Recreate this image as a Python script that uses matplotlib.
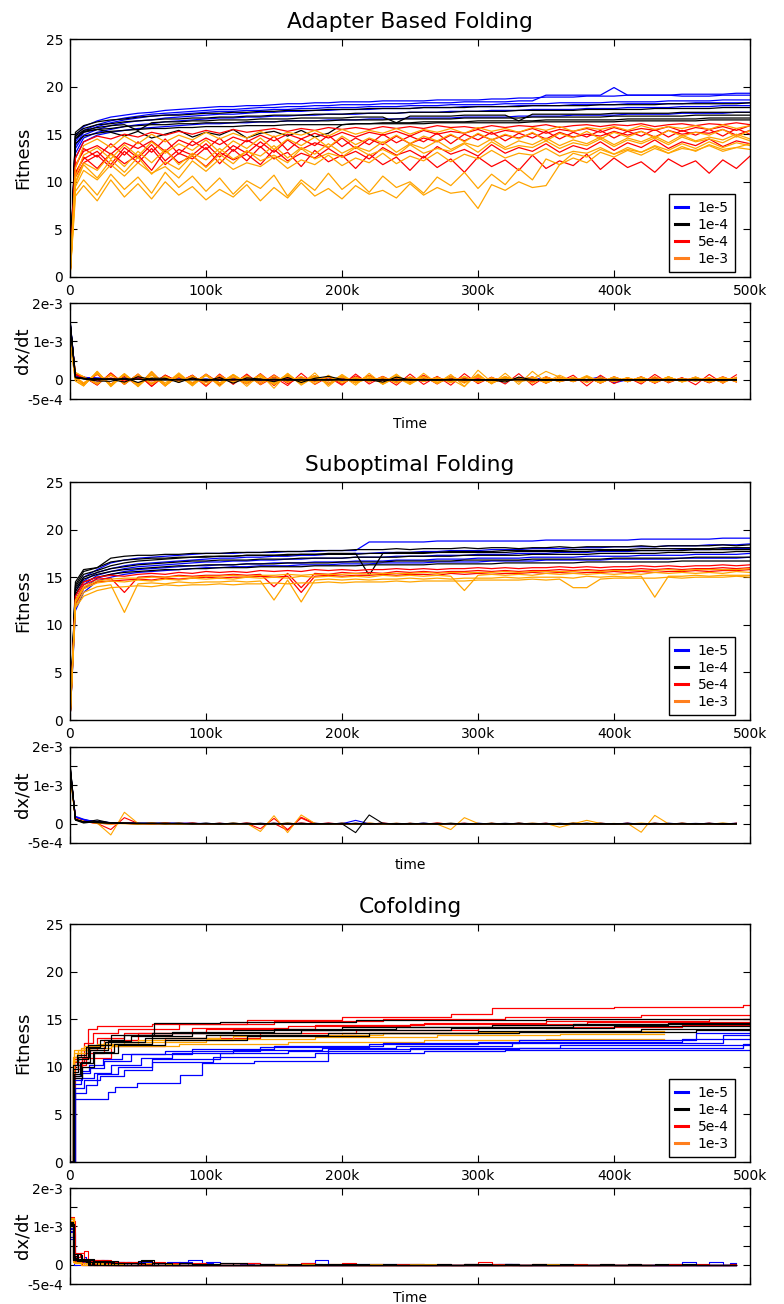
import numpy as np
import matplotlib
matplotlib.use("Agg")
import matplotlib.pyplot as plt
from matplotlib.lines import Line2D

plt.rcParams['font.family'] = ['DejaVu Sans']

# ---------------- data ----------------
TITLES = ["Adapter Based Folding", "Suboptimal Folding", "Cofolding"]
XLABELS = ["Time", "time", "Time"]
RATES = ["1e-5", "1e-4", "5e-4", "1e-3"]
XTICK_LABELS = ["0", "100k", "200k", "300k", "400k", "500k"]
DX_TICK_LABELS = ["-5e-4", "0", "", "1e-3", "", "2e-3"]

# sampling grid (thousands of steps) for panels 1 and 2
T_GRID = [0, 4] + list(range(10, 501, 10))

# ---- Panel 1: Adapter Based Folding ----
A_blue = [
    [0, 14.8, 15.8, 16.4, 16.8, 17.0, 17.2, 17.3, 17.5, 17.6, 17.7, 17.8,
     17.9, 17.9, 18.0, 18.0, 18.1, 18.2, 18.2, 18.3, 18.3, 18.4,
     18.4, 18.4, 18.5, 18.5, 18.5, 18.5, 18.6, 18.6, 18.6, 18.6,
     18.7, 18.7, 18.8, 18.8, 18.9, 18.9, 18.9, 19.0, 19.0, 19.0,
     19.1, 19.1, 19.1, 19.1, 19.2, 19.2, 19.2, 19.2, 19.3, 19.3],
    [0, 14.2, 15.4, 16.0, 16.4, 16.7, 16.9, 17.1, 17.2, 17.3, 17.4, 17.5,
     17.6, 17.6, 17.7, 17.8, 17.8, 17.9, 17.9, 18.0, 18.0, 18.1,
     18.1, 18.1, 18.2, 18.2, 18.2, 18.3, 18.3, 18.3, 18.4, 18.4,
     18.4, 18.4, 18.5, 18.5, 19.1, 19.1, 19.1, 19.1, 19.1, 19.9,
     19.1, 19.1, 19.1, 19.1, 19.0, 19.0, 19.0, 19.1, 19.1, 19.1],
    [0, 13.8, 15.2, 15.8, 16.2, 16.5, 16.7, 16.9, 17.0, 17.1, 17.2, 17.3,
     17.4, 17.4, 17.5, 17.5, 17.6, 17.6, 17.7, 17.7, 17.8, 17.8,
     17.8, 17.9, 17.9, 17.9, 18.0, 18.0, 18.0, 18.1, 18.1, 18.1,
     18.1, 18.2, 18.2, 18.2, 18.2, 18.3, 18.3, 18.3, 18.3, 18.4,
     18.4, 18.4, 18.4, 18.5, 18.5, 18.5, 18.5, 18.6, 18.6, 18.6],
    [0, 13.5, 14.9, 15.5, 15.9, 16.2, 16.4, 16.5, 16.7, 16.8, 16.9, 17.0,
     17.1, 17.1, 17.2, 17.3, 17.3, 17.4, 17.4, 17.5, 17.5, 17.6,
     17.6, 17.6, 17.7, 17.7, 17.7, 17.8, 17.8, 17.8, 17.9, 17.9,
     17.9, 17.9, 18.0, 18.0, 18.0, 18.0, 18.1, 18.1, 18.1, 18.1,
     18.2, 18.2, 18.2, 18.2, 18.2, 18.3, 18.3, 18.3, 18.3, 18.3],
    [0, 13.0, 14.6, 15.2, 15.5, 15.8, 16.0, 16.1, 16.3, 16.4, 16.5, 16.6,
     16.7, 16.7, 16.8, 16.8, 16.9, 16.9, 17.0, 17.0, 17.1, 17.1,
     17.1, 17.2, 17.2, 17.2, 17.3, 17.3, 17.3, 17.4, 17.4, 17.4,
     17.5, 17.5, 17.5, 17.6, 17.6, 17.6, 17.6, 17.7, 17.7, 17.7,
     17.8, 17.8, 17.8, 17.8, 17.9, 17.9, 17.9, 18.0, 18.0, 18.0],
    [0, 12.5, 14.2, 14.9, 15.2, 15.4, 15.6, 15.7, 15.8, 15.9, 16.0, 16.1,
     16.1, 16.2, 16.2, 16.3, 16.3, 16.4, 16.4, 16.4, 16.5, 16.5,
     16.5, 16.6, 16.6, 16.6, 16.7, 16.7, 16.7, 16.7, 16.8, 16.8,
     16.8, 16.8, 16.9, 16.9, 16.9, 16.9, 17.0, 17.0, 17.0, 17.0,
     17.1, 17.1, 17.1, 17.1, 17.2, 17.2, 17.2, 17.2, 17.3, 17.3],
]
A_black = [
    [0, 15.2, 15.9, 16.3, 16.5, 16.6, 16.8, 16.9, 17.0, 17.0, 17.1, 17.2,
     17.2, 17.3, 17.3, 17.4, 17.4, 17.5, 17.5, 17.5, 17.6, 17.6,
     17.6, 17.7, 17.7, 17.7, 17.7, 17.8, 17.8, 17.8, 17.8, 17.9,
     17.9, 17.9, 17.9, 18.0, 18.0, 18.0, 18.0, 18.0, 18.1, 18.1,
     18.1, 18.1, 18.1, 18.2, 18.2, 18.2, 18.2, 18.2, 18.2, 18.3],
    [0, 15.0, 15.6, 16.0, 16.1, 16.3, 16.4, 16.5, 16.6, 16.6, 16.7, 16.7,
     16.8, 16.8, 16.9, 16.9, 17.0, 17.0, 17.0, 17.1, 17.1, 17.1,
     17.2, 17.2, 17.2, 17.2, 17.3, 17.3, 17.3, 17.3, 17.4, 17.4,
     17.4, 17.4, 17.5, 17.5, 17.5, 17.5, 17.5, 17.6, 17.6, 17.6,
     17.6, 17.6, 17.7, 17.7, 17.7, 17.7, 17.7, 17.8, 17.8, 17.8],
    [0, 14.8, 15.4, 15.7, 15.9, 16.0, 15.4, 16.2, 16.3, 16.3, 16.4, 16.4,
     16.5, 16.5, 16.5, 16.6, 16.6, 16.6, 16.7, 16.7, 16.7, 16.7,
     16.8, 16.8, 16.8, 16.2, 16.9, 16.9, 16.9, 16.9, 17.0, 17.0,
     17.0, 17.0, 16.4, 17.1, 17.1, 17.1, 17.1, 17.1, 17.1, 17.2,
     17.2, 17.2, 17.2, 17.2, 17.3, 17.3, 17.3, 17.3, 17.3, 17.3],
    [0, 14.5, 15.2, 15.5, 15.6, 15.8, 15.9, 16.0, 16.0, 16.1, 16.1, 16.2,
     16.2, 16.2, 16.3, 16.3, 16.3, 16.4, 16.4, 16.4, 16.4, 16.5,
     16.5, 16.5, 16.5, 16.6, 16.6, 16.6, 16.6, 16.6, 16.7, 16.7,
     16.7, 16.7, 16.7, 16.8, 16.8, 16.8, 16.8, 16.8, 16.8, 16.9,
     16.9, 16.9, 16.9, 16.9, 16.9, 17.0, 17.0, 17.0, 17.0, 17.0],
    [0, 14.6, 15.3, 15.5, 15.2, 14.8, 15.3, 14.6, 15.0, 15.4, 14.7, 15.2,
     14.9, 15.5, 14.6, 15.1, 15.3, 14.8, 15.4, 14.7, 15.1, 16.0,
     16.1, 16.1, 16.2, 16.2, 16.2, 16.3, 16.3, 16.3, 16.3, 16.4,
     16.4, 16.4, 16.4, 16.4, 16.5, 16.5, 16.5, 16.5, 16.5, 16.5,
     16.6, 16.6, 16.6, 16.6, 16.6, 16.6, 16.7, 16.7, 16.7, 16.7],
    [0, 14.0, 14.8, 15.1, 15.3, 15.4, 15.5, 15.6, 15.6, 15.7, 15.7, 15.8,
     15.8, 15.8, 15.9, 15.9, 15.9, 16.0, 16.0, 16.0, 16.0, 16.0,
     16.1, 16.1, 16.1, 16.1, 16.1, 16.1, 16.2, 16.2, 16.2, 16.2,
     16.2, 16.2, 16.2, 16.3, 16.3, 16.3, 16.3, 16.3, 16.3, 16.3,
     16.4, 16.4, 16.4, 16.4, 16.4, 16.4, 16.5, 16.5, 16.5, 16.5],
]
A_red = [
    [0, 12.5, 14.2, 14.8, 14.5, 15.0, 14.7, 15.2, 14.9, 15.3, 15.0, 15.4,
     15.1, 15.5, 15.2, 15.4, 15.6, 15.3, 15.6, 15.4, 15.7, 15.5,
     15.7, 15.5, 15.8, 15.6, 15.8, 15.6, 15.9, 15.7, 15.8, 15.6,
     15.9, 15.7, 15.9, 15.8, 16.0, 15.7, 15.9, 16.0, 15.8, 16.0,
     15.9, 16.1, 15.8, 16.0, 16.1, 15.9, 16.1, 16.0, 16.2, 16.0],
    [0, 11.8, 13.2, 13.8, 12.9, 14.1, 13.5, 14.3, 13.2, 14.4, 13.8, 14.6,
     13.9, 14.7, 14.2, 14.9, 14.3, 15.0, 14.5, 15.1, 14.6, 15.2,
     14.7, 15.2, 14.9, 15.3, 14.8, 15.4, 15.0, 15.3, 15.1, 15.5,
     15.0, 15.4, 15.2, 15.6, 15.1, 15.5, 15.3, 15.6, 15.2, 15.7,
     15.3, 15.6, 15.4, 15.8, 15.3, 15.7, 15.5, 15.8, 15.4, 15.9],
    [0, 11.0, 12.4, 13.2, 11.8, 13.6, 12.5, 13.9, 12.2, 13.4, 12.8, 14.0,
     12.6, 13.8, 13.0, 14.2, 13.1, 14.4, 13.4, 14.1, 13.6, 14.6,
     13.5, 14.5, 13.9, 14.8, 14.0, 14.6, 14.2, 14.9, 14.3, 15.0,
     14.4, 14.9, 14.6, 15.1, 14.5, 15.2, 14.7, 15.0, 14.8, 15.3,
     14.9, 15.3, 14.7, 15.4, 15.0, 15.2, 15.1, 15.5, 14.9, 15.4],
    [0, 10.5, 12.0, 12.8, 11.5, 13.2, 12.0, 13.5, 11.8, 13.0, 12.4, 13.6,
     11.9, 13.4, 12.2, 13.7, 12.4, 13.1, 11.6, 13.3, 12.1, 12.8,
     11.4, 12.9, 11.8, 12.6, 11.2, 12.7, 11.5, 12.4, 11.0, 12.6,
     11.6, 12.3, 11.2, 12.8, 11.4, 12.2, 11.7, 12.9, 11.3, 12.5,
     11.5, 12.1, 11.0, 12.4, 11.6, 12.2, 10.9, 12.3, 11.4, 12.7],
    [0, 11.5, 13.5, 12.6, 14.0, 12.8, 14.2, 13.1, 14.5, 12.9, 14.3, 13.4,
     14.6, 13.2, 14.4, 13.6, 14.8, 13.3, 14.5, 13.8, 14.9, 13.7,
     14.6, 13.9, 15.0, 14.1, 14.8, 14.2, 15.1, 14.0, 15.0, 14.4,
     15.2, 14.3, 15.1, 14.6, 15.3, 14.5, 15.2, 14.7, 15.4, 14.6,
     15.3, 14.8, 15.5, 14.7, 15.4, 14.9, 15.5, 14.8, 15.6, 15.0],
    [0, 10.8, 12.6, 11.4, 13.0, 11.9, 12.8, 11.2, 13.3, 12.0, 12.7, 11.6,
     13.1, 12.3, 12.9, 11.8, 13.4, 12.2, 13.0, 12.5, 13.5, 12.6,
     13.2, 12.4, 13.6, 12.8, 13.3, 12.5, 13.7, 12.9, 13.4, 12.7,
     13.9, 13.0, 13.6, 13.2, 14.0, 13.1, 13.8, 13.4, 14.2, 13.3,
     14.1, 13.6, 14.4, 13.5, 14.2, 13.8, 14.5, 13.7, 14.3, 14.0],
]
A_orange = [
    [0, 11.5, 13.8, 14.5, 13.6, 14.8, 14.0, 15.0, 14.2, 14.9, 14.4, 15.2,
     14.5, 15.1, 14.6, 15.3, 14.7, 15.2, 14.9, 15.4, 14.8, 15.5,
     15.0, 15.4, 15.1, 15.6, 15.0, 15.5, 15.2, 15.6, 15.1, 15.7,
     15.3, 15.6, 15.2, 15.7, 15.4, 15.8, 15.3, 15.7, 15.5, 15.8,
     15.4, 15.9, 15.5, 15.8, 15.6, 15.9, 15.5, 16.0, 15.6, 15.9],
    [0, 10.5, 12.8, 13.6, 12.4, 13.9, 12.7, 14.2, 13.0, 14.0, 13.3, 14.4,
     13.1, 14.3, 13.5, 14.6, 13.4, 14.5, 13.8, 14.7, 13.6, 14.8,
     13.9, 14.6, 14.1, 14.9, 14.0, 14.8, 14.3, 15.0, 14.2, 15.1,
     14.4, 15.0, 14.5, 15.2, 14.3, 15.1, 14.6, 15.3, 14.5, 15.2,
     14.7, 15.3, 14.6, 15.4, 14.8, 15.2, 14.9, 15.5, 14.7, 15.4],
    [0, 10.0, 12.0, 11.2, 12.9, 11.6, 13.2, 12.0, 13.4, 11.8, 13.0, 12.3,
     13.5, 12.4, 13.2, 12.7, 13.8, 12.5, 13.6, 12.9, 14.0, 13.0,
     13.7, 13.2, 14.2, 13.1, 14.0, 13.5, 14.3, 13.4, 14.1, 13.7,
     14.5, 13.6, 14.3, 13.9, 14.6, 13.8, 14.4, 14.0, 14.7, 13.9,
     14.6, 14.2, 14.8, 14.1, 14.9, 14.3, 14.7, 14.4, 15.0, 14.5],
    [0, 9.5, 11.2, 10.2, 11.8, 10.6, 12.0, 10.9, 11.6, 10.4, 12.2, 11.1,
     12.4, 11.3, 12.0, 11.6, 12.6, 11.4, 12.3, 11.8, 12.8, 11.7,
     12.5, 12.0, 13.0, 11.9, 12.7, 12.2, 13.1, 12.1, 12.9, 12.4,
     13.3, 12.5, 13.0, 12.8, 13.5, 12.7, 13.2, 13.0, 13.6, 12.9,
     13.4, 13.1, 13.7, 13.0, 13.5, 13.3, 13.8, 13.2, 13.6, 13.4],
    [0, 9.0, 10.2, 8.6, 10.8, 9.2, 10.5, 8.8, 11.0, 9.4, 10.6, 9.0,
     10.4, 8.7, 10.1, 9.3, 10.7, 8.5, 10.2, 9.1, 10.9, 9.2,
     10.3, 8.9, 10.6, 9.4, 10.0, 8.8, 10.5, 9.6, 11.0, 9.3,
     10.8, 9.7, 11.4, 10.2, 12.4, 11.8, 13.0, 12.6, 13.4, 12.9,
     13.6, 13.1, 13.8, 13.3, 14.0, 13.5, 14.2, 13.6, 14.1, 13.8],
    [0, 8.5, 9.6, 8.0, 10.2, 8.4, 9.8, 8.2, 10.0, 8.6, 9.5, 8.1,
     9.2, 8.4, 9.7, 8.0, 9.4, 8.3, 9.9, 8.5, 9.3, 8.2,
     9.6, 8.7, 9.1, 8.3, 9.8, 8.6, 9.4, 8.8, 9.0, 7.2,
     9.7, 9.1, 10.0, 9.4, 9.6, 11.8, 12.5, 12.0, 13.1, 12.6,
     13.3, 12.8, 13.5, 13.0, 13.7, 13.2, 13.9, 13.4, 13.6, 14.0],
    [0, 9.8, 11.8, 10.4, 12.3, 11.0, 12.6, 10.8, 12.1, 11.3, 12.8, 11.5,
     12.9, 11.9, 13.3, 12.2, 12.8, 12.0, 13.5, 12.4, 13.0, 12.6,
     13.6, 12.8, 13.4, 12.7, 13.9, 13.0, 13.5, 13.2, 14.0, 13.1,
     14.2, 13.4, 13.8, 13.6, 14.3, 13.5, 14.1, 13.8, 14.5, 13.7,
     14.4, 14.0, 14.6, 13.9, 14.7, 14.2, 14.5, 14.1, 14.8, 14.3],
]

# ---- Panel 2: Suboptimal Folding ----
S_blue = [
    [0, 13.5, 15.0, 15.8, 16.5, 16.8, 17.0, 17.1, 17.2, 17.3, 17.4, 17.5,
     17.5, 17.5, 17.6, 17.6, 17.6, 17.7, 17.7, 17.7, 17.8, 17.8,
     17.8, 18.7, 18.7, 18.7, 18.7, 18.7, 18.8, 18.8, 18.8, 18.8,
     18.8, 18.8, 18.8, 18.8, 18.9, 18.9, 18.9, 18.9, 18.9, 18.9,
     18.9, 19.0, 19.0, 19.0, 19.0, 19.0, 19.0, 19.1, 19.1, 19.1],
    [0, 13.0, 14.6, 15.5, 15.9, 16.2, 16.4, 16.5, 16.6, 16.7, 16.8, 16.9,
     17.0, 17.0, 17.1, 17.1, 17.2, 17.2, 17.3, 17.3, 17.4, 17.4,
     17.5, 17.5, 17.6, 17.6, 17.6, 17.7, 17.7, 17.8, 17.8, 17.8,
     17.9, 17.9, 17.9, 18.0, 18.0, 18.0, 18.1, 18.1, 18.1, 18.2,
     18.2, 18.2, 18.2, 18.3, 18.3, 18.3, 18.4, 18.4, 18.4, 18.5],
    [0, 12.5, 14.2, 15.2, 15.6, 15.9, 16.1, 16.2, 16.3, 16.4, 16.5, 16.6,
     16.6, 16.7, 16.7, 16.8, 16.8, 16.9, 16.9, 17.0, 17.0, 17.0,
     17.1, 17.1, 17.1, 17.2, 17.2, 17.2, 17.3, 17.3, 17.3, 17.4,
     17.4, 17.4, 17.5, 17.5, 17.5, 17.6, 17.6, 17.6, 17.7, 17.7,
     17.7, 17.8, 17.8, 17.8, 17.9, 17.9, 17.9, 18.0, 18.0, 18.0],
    [0, 12.0, 13.8, 14.9, 15.3, 15.6, 15.8, 15.9, 16.0, 16.1, 16.2, 16.2,
     16.3, 16.3, 16.4, 16.4, 16.5, 16.5, 16.5, 16.6, 16.6, 16.6,
     16.7, 16.7, 16.7, 16.8, 16.8, 16.8, 16.9, 16.9, 16.9, 17.0,
     17.0, 17.0, 17.0, 17.1, 17.1, 17.1, 17.1, 17.2, 17.2, 17.2,
     17.2, 17.3, 17.3, 17.3, 17.3, 17.4, 17.4, 17.4, 17.4, 17.5],
    [0, 11.5, 13.4, 14.6, 15.0, 15.3, 15.5, 15.6, 15.7, 15.8, 15.9, 16.0,
     16.0, 16.1, 16.1, 16.2, 16.2, 16.2, 16.3, 16.3, 16.3, 16.4,
     16.4, 16.4, 16.5, 16.5, 16.5, 16.5, 16.6, 16.6, 16.6, 16.6,
     16.7, 16.7, 16.7, 16.7, 16.8, 16.8, 16.8, 16.8, 16.8, 16.9,
     16.9, 16.9, 16.9, 16.9, 17.0, 17.0, 17.0, 17.0, 17.0, 17.1],
]
S_black = [
    [0, 14.2, 15.6, 16.0, 17.0, 17.2, 17.3, 17.3, 17.4, 17.4, 17.5, 17.5,
     17.5, 17.6, 17.6, 17.6, 17.7, 17.7, 17.7, 17.8, 17.8, 17.8,
     17.9, 17.9, 17.9, 18.0, 17.9, 18.0, 18.0, 18.0, 18.1, 18.0,
     18.1, 18.1, 18.0, 18.1, 18.1, 18.2, 18.1, 18.2, 18.2, 18.2,
     18.2, 18.3, 18.2, 18.3, 18.3, 18.3, 18.3, 18.4, 18.3, 18.4],
    [0, 14.0, 15.3, 15.7, 16.2, 16.5, 16.7, 16.8, 16.9, 17.0, 17.1, 17.1,
     17.2, 17.2, 17.3, 17.3, 17.3, 17.4, 17.4, 17.4, 17.5, 17.5,
     17.5, 15.2, 17.5, 17.6, 17.6, 17.6, 17.6, 17.7, 17.7, 17.7,
     17.7, 17.8, 17.8, 17.8, 17.8, 17.8, 17.9, 17.9, 17.9, 17.9,
     17.9, 18.0, 18.0, 18.0, 18.0, 18.0, 18.0, 18.1, 18.1, 18.1],
    [0, 13.8, 15.0, 15.5, 15.9, 16.1, 16.3, 16.4, 16.5, 16.6, 16.7, 16.7,
     16.8, 16.8, 16.8, 16.9, 16.9, 16.9, 17.0, 17.0, 17.0, 17.0,
     17.1, 17.1, 17.1, 17.1, 17.2, 17.2, 17.2, 17.2, 17.3, 17.3,
     17.3, 17.3, 17.3, 17.4, 17.4, 17.4, 17.4, 17.4, 17.5, 17.5,
     17.5, 17.5, 17.5, 17.6, 17.6, 17.6, 17.6, 17.6, 17.7, 17.7],
    [0, 13.5, 14.8, 15.3, 15.6, 15.8, 15.9, 16.0, 16.1, 16.2, 16.2, 16.3,
     16.3, 16.3, 16.4, 16.4, 16.4, 16.5, 16.5, 16.5, 16.5, 16.6,
     16.6, 16.6, 16.6, 16.7, 16.7, 16.7, 16.7, 16.7, 16.8, 16.8,
     16.8, 16.8, 16.8, 16.9, 16.9, 16.9, 16.9, 16.9, 16.9, 17.0,
     17.0, 17.0, 17.0, 17.0, 17.0, 17.1, 17.1, 17.1, 17.1, 17.1],
    [0, 13.2, 14.5, 15.0, 15.3, 15.5, 15.6, 15.7, 15.8, 15.8, 15.9, 15.9,
     16.0, 16.0, 16.0, 16.1, 16.1, 16.1, 16.1, 16.2, 16.2, 16.2,
     16.2, 16.3, 16.3, 16.3, 16.3, 16.3, 16.4, 16.4, 16.4, 16.4,
     16.4, 16.5, 16.5, 16.5, 16.5, 16.5, 16.5, 16.6, 16.6, 16.6,
     16.6, 16.6, 16.6, 16.6, 16.7, 16.7, 16.7, 16.7, 16.7, 16.7],
    [0, 14.5, 15.8, 16.0, 16.6, 16.8, 16.9, 17.0, 17.0, 17.1, 17.1, 17.2,
     17.2, 17.2, 17.3, 17.3, 17.3, 17.3, 17.4, 17.4, 17.4, 17.4,
     17.4, 17.5, 17.5, 17.5, 17.5, 17.5, 17.6, 17.6, 17.6, 17.6,
     17.6, 17.6, 17.7, 17.7, 17.7, 17.7, 17.7, 17.7, 17.8, 17.8,
     17.8, 17.8, 17.8, 17.8, 17.8, 17.9, 17.9, 17.9, 17.9, 17.9],
]
S_red = [
    [0, 13.0, 14.5, 15.0, 15.2, 15.1, 15.3, 15.4, 15.3, 15.5, 15.4, 15.6,
     15.5, 15.6, 15.5, 15.7, 15.6, 15.7, 15.6, 15.8, 15.7, 15.8,
     15.7, 15.8, 15.8, 15.9, 15.8, 15.9, 15.8, 15.9, 15.9, 16.0,
     15.9, 16.0, 15.9, 16.0, 16.0, 16.1, 16.0, 16.1, 16.0, 16.1,
     16.1, 16.2, 16.1, 16.2, 16.1, 16.2, 16.2, 16.3, 16.2, 16.3],
    [0, 12.6, 14.2, 14.8, 14.9, 13.4, 15.0, 15.1, 15.0, 15.2, 15.1, 15.2,
     15.2, 15.3, 15.2, 15.3, 14.0, 15.4, 13.9, 15.4, 15.3, 15.5,
     15.4, 15.5, 15.4, 15.6, 15.5, 15.6, 15.5, 15.6, 15.6, 15.7,
     15.6, 15.7, 15.6, 15.7, 15.7, 15.8, 15.7, 15.8, 15.7, 15.8,
     15.8, 15.9, 15.8, 15.9, 15.8, 15.9, 15.9, 16.0, 15.9, 16.0],
    [0, 12.2, 13.8, 14.5, 14.6, 14.7, 14.8, 14.7, 14.9, 14.8, 14.9, 15.0,
     14.9, 15.0, 15.0, 15.1, 15.0, 15.1, 13.4, 15.1, 15.2, 15.1,
     15.2, 15.2, 15.3, 15.2, 15.3, 15.3, 15.2, 15.4, 15.3, 15.4,
     15.3, 15.4, 15.4, 15.5, 15.4, 15.5, 15.4, 15.5, 15.5, 15.6,
     15.5, 15.6, 15.5, 15.6, 15.6, 15.7, 15.6, 15.7, 15.7, 15.8],
]
S_orange = [
    [0, 12.4, 13.8, 14.4, 14.6, 14.5, 14.7, 14.6, 14.8, 14.7, 14.9, 14.8,
     14.9, 14.8, 15.0, 14.9, 15.0, 14.9, 15.1, 15.0, 15.1, 15.0,
     15.1, 15.0, 15.2, 15.1, 15.2, 15.1, 15.2, 15.1, 13.6, 15.2,
     15.3, 15.2, 15.3, 15.2, 15.4, 15.3, 15.4, 15.3, 15.4, 15.3,
     15.4, 15.3, 15.5, 15.4, 15.5, 15.4, 15.5, 15.4, 15.6, 15.5],
    [0, 12.0, 13.4, 14.0, 14.2, 11.3, 14.3, 14.4, 14.3, 14.5, 14.4, 14.5,
     14.5, 14.6, 14.5, 14.6, 12.6, 14.7, 12.4, 14.7, 14.8, 14.7,
     14.8, 14.7, 14.8, 14.8, 14.9, 14.8, 14.9, 14.8, 14.9, 14.9,
     14.9, 15.0, 14.9, 15.0, 15.0, 15.0, 14.9, 15.1, 15.0, 15.1,
     15.0, 15.1, 12.9, 15.1, 15.1, 15.2, 15.1, 15.2, 15.2, 15.2],
    [0, 11.8, 13.0, 13.6, 13.9, 14.0, 14.1, 14.0, 14.2, 14.1, 14.2, 14.2,
     14.3, 14.2, 14.3, 14.3, 14.4, 14.3, 14.4, 14.4, 14.5, 14.4,
     14.5, 14.5, 14.5, 14.6, 14.5, 14.6, 14.6, 14.6, 14.6, 14.7,
     14.7, 14.7, 14.7, 14.8, 14.7, 14.8, 13.9, 13.9, 14.8, 14.9,
     14.9, 14.9, 14.9, 15.0, 14.9, 15.0, 15.0, 15.0, 15.1, 15.0],
    [0, 12.6, 14.0, 14.6, 14.8, 14.9, 14.9, 15.0, 15.0, 15.1, 15.0, 15.1,
     15.1, 15.2, 15.1, 15.2, 15.2, 15.3, 15.2, 15.3, 15.3, 15.3,
     15.4, 15.3, 15.4, 15.4, 15.4, 15.5, 15.4, 15.5, 15.5, 15.5,
     15.5, 15.6, 15.5, 15.6, 15.6, 15.6, 15.6, 15.7, 15.6, 15.7,
     15.7, 15.7, 15.7, 15.8, 15.7, 15.8, 15.8, 15.8, 15.8, 15.9],
]

# ---- Panel 3: Cofolding (step-wise runs: change times in k, fitness after change) ----
C_END = {"blue": 500, "black": 500, "red": 500, "orange": 437}
C_blue_t = [[0, 3, 28, 33, 49, 81, 97, 135, 190, 330, 495],
            [0, 4, 10, 22, 40, 60, 105, 180, 260, 320],
            [0, 3, 8, 18, 30, 52, 75, 120, 185, 240, 325, 480],
            [0, 3, 9, 15, 25, 45, 90, 150, 230, 330, 460],
            [0, 4, 12, 20, 35, 60, 110, 160, 250, 360],
            [0, 3, 7, 14, 24, 38, 70, 140, 220, 300, 450]]
C_blue_v = [[0, 6.6, 7.4, 7.9, 8.3, 9.1, 10.4, 10.6, 11.9, 12.0, 12.4],
            [0, 7.8, 8.6, 9.0, 9.7, 10.5, 11.0, 11.4, 11.7, 11.8],
            [0, 8.2, 8.8, 9.4, 10.2, 10.9, 11.4, 11.8, 12.0, 12.2, 12.5, 13.3],
            [0, 8.6, 9.3, 9.9, 10.6, 11.3, 11.9, 12.2, 12.5, 12.8, 13.5],
            [0, 7.2, 8.1, 9.2, 10.0, 10.8, 11.5, 11.7, 12.0, 12.3],
            [0, 9.0, 9.6, 10.2, 10.8, 11.3, 11.7, 12.1, 12.4, 12.6, 12.9]]
C_black_t = [[0, 2, 6, 13, 30, 62, 110, 210, 350],
             [0, 3, 8, 15, 28, 45, 90, 170, 280, 400],
             [0, 2, 5, 12, 22, 40, 75, 150, 240, 370],
             [0, 3, 9, 18, 35, 70, 130, 220, 330, 460],
             [0, 2, 6, 14, 26, 55, 100, 190, 300, 420],
             [0, 3, 7, 17, 32, 60, 120, 200, 310, 440]]
C_black_v = [[0, 9.5, 10.8, 12.3, 13.3, 14.6, 14.7, 14.9, 15.0],
             [0, 9.0, 10.5, 11.8, 12.7, 13.2, 13.6, 13.9, 14.1, 14.3],
             [0, 10.2, 11.2, 12.1, 12.8, 13.3, 13.7, 14.0, 14.2, 14.5],
             [0, 8.8, 10.0, 11.4, 12.3, 12.8, 13.2, 13.5, 13.7, 13.9],
             [0, 9.8, 11.0, 12.0, 12.6, 13.0, 13.3, 13.6, 13.8, 14.0],
             [0, 9.2, 10.4, 11.6, 12.4, 13.5, 13.9, 14.2, 14.4, 14.6]]
C_red_t = [[0, 3, 13, 20, 60, 130, 200, 280, 310, 400, 495],
           [0, 3, 10, 17, 35, 80, 150, 230, 320, 420],
           [0, 4, 12, 25, 50, 100, 180, 260, 350, 470],
           [0, 3, 8, 20, 40, 90, 160, 250, 380],
           [0, 2, 9, 30, 70, 140, 210, 300, 450]]
C_red_v = [[0, 10.8, 14.0, 14.3, 14.5, 14.9, 15.2, 15.5, 16.2, 16.3, 16.5],
           [0, 10.5, 12.5, 13.6, 14.0, 14.5, 14.8, 15.0, 15.2, 15.4],
           [0, 10.2, 11.5, 12.8, 13.5, 14.0, 14.4, 14.6, 14.8, 15.0],
           [0, 11.0, 11.8, 13.0, 13.6, 14.1, 14.3, 14.5, 14.7],
           [0, 9.8, 10.9, 12.2, 13.0, 13.5, 13.9, 14.2, 14.4]]
C_orange_t = [[0, 2, 6, 15, 40, 100, 180, 270, 360],
              [0, 3, 8, 20, 50, 120, 200, 300],
              [0, 2, 5, 12, 30, 80, 160, 260, 350],
              [0, 3, 10, 25, 60, 110, 230, 330]]
C_orange_v = [[0, 11.0, 11.8, 12.3, 12.6, 12.9, 13.1, 13.3, 13.4],
              [0, 11.4, 12.0, 12.4, 12.8, 13.2, 13.5, 13.7],
              [0, 10.6, 11.5, 12.0, 12.2, 12.4, 12.6, 12.8, 12.9],
              [0, 11.8, 12.2, 12.6, 13.0, 13.3, 13.6, 13.8]]

COLORS = {"blue": "#0000ff", "black": "#000000", "red": "#ff0000", "orange": "#ffa500"}
LEGEND_COLORS = ["#0000ff", "#000000", "#ff0000", "#ff7f1e"]

for grp in (A_blue, A_black, A_red, A_orange, S_blue, S_black, S_red, S_orange):
    for s in grp:
        assert len(s) == len(T_GRID), len(s)


# ---------------- helpers ----------------
def windowed_rate(t_k, f, w=10):
    """(F(t+w) - F(t)) / w, using the next recorded sample at least w later."""
    t = np.asarray(t_k, float)
    f = np.asarray(f, float)
    ts, rs = [], []
    for i in range(len(t)):
        j = np.searchsorted(t, t[i] + w)
        if j >= len(t):
            break
        ts.append(t[i])
        rs.append((f[j] - f[i]) / ((t[j] - t[i]) * 1000.0))
    return np.array(ts) * 1000.0, np.array(rs)


def step_rate(t_k, f, t_end, w=10):
    """Windowed rate of a step-wise (post) series."""
    t = np.asarray(t_k, float)
    f = np.asarray(f, float)
    ev = set([0.0, t_end - w] + list(t) + [x - w for x in t if x - w > 0])
    ev = sorted(e for e in ev if e + w <= t_end)

    def F(x):
        return f[np.searchsorted(t, x, side="right") - 1]

    rs = [(F(e + w) - F(e)) / (w * 1000.0) for e in ev]
    return np.array(ev) * 1000.0, np.array(rs)


YLABEL_X = (23 - 70) / 680.0


def style_axes(ax):
    ax.tick_params(direction="in", top=True, right=True, length=5, width=0.8,
                   labelsize=10, pad=5)
    for sp in ax.spines.values():
        sp.set_linewidth(1.0)


def style_fit(ax, title):
    ax.set_xlim(0, 500000)
    ax.set_ylim(0, 25)
    ax.set_xticks(np.arange(0, 500001, 100000))
    ax.set_xticklabels(XTICK_LABELS)
    ax.set_yticks([0, 5, 10, 15, 20, 25])
    ax.set_ylabel("Fitness", fontsize=13, va="center")
    ax.yaxis.set_label_coords(YLABEL_X, 0.5)
    ax.set_title(title, fontsize=15.7, pad=8)
    style_axes(ax)
    handles = [Line2D([], [], color=c, lw=2.2) for c in LEGEND_COLORS]
    leg = ax.legend(handles, RATES, loc="lower right", bbox_to_anchor=(0.985, 0.0),
                    fontsize=10, handlelength=0.9, handletextpad=0.7,
                    labelspacing=0.22, borderpad=0.45, borderaxespad=0.35,
                    fancybox=False, framealpha=1.0, edgecolor="black")
    leg.get_frame().set_linewidth(1.0)


def style_dx(ax, xlabel, labelpad):
    ax.set_xlim(0, 500000)
    ax.set_ylim(-5e-4, 2e-3)
    ax.set_xticks(np.arange(0, 500001, 100000))
    ax.set_xticklabels([])
    ax.set_yticks([-5e-4, 0, 5e-4, 1e-3, 1.5e-3, 2e-3])
    ax.set_yticklabels(DX_TICK_LABELS)
    ax.set_ylabel("dx/dt", fontsize=13, va="center")
    ax.yaxis.set_label_coords(YLABEL_X, 0.5)
    ax.set_xlabel(xlabel, fontsize=10, labelpad=labelpad)
    style_axes(ax)


# ---------------- figure ----------------
fig = plt.figure(figsize=(7.84, 13.04), dpi=100)
L, W = 70 / 784, 680 / 784
H_FIT, H_DX = 238 / 1304, 96 / 1304
fit_bottoms = [1 - 277 / 1304, 1 - 720 / 1304, 1 - 1162 / 1304]
dx_bottoms = [1 - 399 / 1304, 1 - 843 / 1304, 1 - 1284 / 1304]
dx_labelpads = [8, 6, 0]

T_STEPS = np.array(T_GRID, float) * 1000.0
LW = 0.9

panels = [
    [("blue", A_blue), ("black", A_black), ("red", A_red), ("orange", A_orange)],
    [("blue", S_blue), ("black", S_black), ("red", S_red), ("orange", S_orange)],
]
dx_order = ["blue", "red", "orange", "black"]

for p in range(2):
    axf = fig.add_axes([L, fit_bottoms[p], W, H_FIT])
    axd = fig.add_axes([L, dx_bottoms[p], W, H_DX])
    groups = dict(panels[p])
    for name, grp in panels[p]:
        for s in grp:
            axf.plot(T_STEPS, s, color=COLORS[name], lw=LW)
    for name in dx_order:
        for s in groups[name]:
            tt, rr = windowed_rate(T_GRID, s)
            axd.plot(tt, rr, color=COLORS[name], lw=0.8)
    style_fit(axf, TITLES[p])
    style_dx(axd, XLABELS[p], dx_labelpads[p])

# Cofolding panel (step-wise runs)
axf = fig.add_axes([L, fit_bottoms[2], W, H_FIT])
axd = fig.add_axes([L, dx_bottoms[2], W, H_DX])
cof = {"red": (C_red_t, C_red_v), "orange": (C_orange_t, C_orange_v),
       "blue": (C_blue_t, C_blue_v), "black": (C_black_t, C_black_v)}
for name in ["red", "orange", "blue", "black"]:
    ts, vs = cof[name]
    end = C_END[name]
    for t, v in zip(ts, vs):
        axf.plot(np.r_[t, end] * 1000.0, np.r_[v, v[-1]], color=COLORS[name],
                 lw=LW, drawstyle="steps-post")
for name in ["blue", "red", "orange", "black"]:
    ts, vs = cof[name]
    end = C_END[name]
    for t, v in zip(ts, vs):
        tt, rr = step_rate(t, v, end)
        axd.plot(tt, rr, color=COLORS[name], lw=0.8, drawstyle="steps-post")
style_fit(axf, TITLES[2])
style_dx(axd, XLABELS[2], dx_labelpads[2])

fig.savefig("out.png", dpi=100)
